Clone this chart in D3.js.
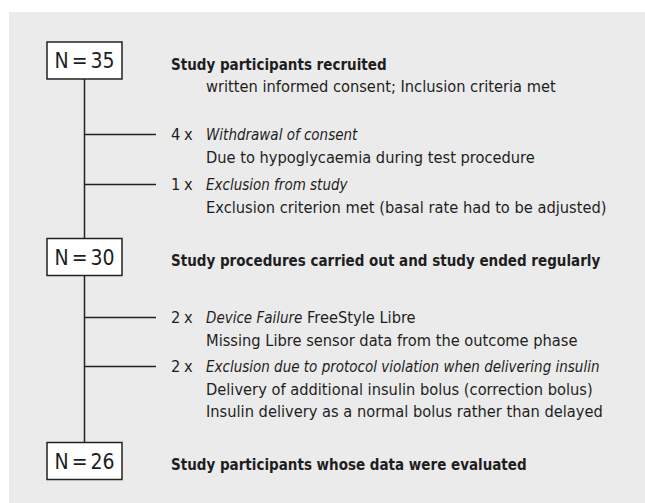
<!DOCTYPE html>
<html>
<head>
<meta charset="utf-8">
<script src="https://cdn.jsdelivr.net/npm/d3@7"></script>
<style>
  html, body { margin: 0; padding: 0; background: #fff; }
  svg { display: block; }
  text { font-family: "Liberation Sans Narrow", "DejaVu Sans Condensed", "Roboto Condensed", sans-serif; fill: #1e1e1e; }
</style>
</head>
<body>
<svg id="flow" width="645" height="503"></svg>
<script>
// Flow of study participants (recruited -> evaluated)

// ---------- data ----------
const stageCounts  = [35, 30, 26];
const stageTitles  = [
  'Study participants recruited',
  'Study procedures carried out and study ended regularly',
  'Study participants whose data were evaluated'
];
const stageNotes   = [
  ['written informed consent; Inclusion criteria met'],
  [],
  []
];
// drop-outs, grouped by the stage they leave from
const dropStage    = [0, 0, 1, 1];
const dropCounts   = [4, 1, 2, 2];
const dropReasons  = [
  'Withdrawal of consent',
  'Exclusion from study',
  'Device Failure',
  'Exclusion due to protocol violation when delivering insulin'
];
const dropSuffix   = ['', '', ' FreeStyle Libre', ''];
const dropDetails  = [
  ['Due to hypoglycaemia during test procedure'],
  ['Exclusion criterion met (basal rate had to be adjusted)'],
  ['Missing Libre sensor data from the outcome phase'],
  ['Delivery of additional insulin bolus (correction bolus)',
   'Insulin delivery as a normal bolus rather than delayed']
];

// ---------- layout ----------
const CONFIG = {
  panel     : { x: 9, y: 12, w: 636, h: 491, fill: '#ebebeb' },
  boxW      : 75,
  boxH      : 37,
  boxX      : 47,
  stemX     : 84.5,
  branchEnd : 156,
  titleX    : 171,
  indentX   : 206,
  lineH     : 22.5,
  fontSize  : 16.3,   // regular
  italSize  : 15,
  boldSize  : 15,
  boxFont   : 21,
  ink       : '#222'
};

// vertical positions: box centres and first baseline of each drop-out group
const stageY = d3.scaleOrdinal().domain(d3.range(stageCounts.length)).range([60.5, 257, 461]);
const dropY  = d3.scaleOrdinal().domain(d3.range(dropCounts.length)).range([140, 190, 323, 372]);

const svg = d3.select('#flow');

svg.append('rect')
  .attr('x', CONFIG.panel.x).attr('y', CONFIG.panel.y)
  .attr('width', CONFIG.panel.w).attr('height', CONFIG.panel.h)
  .attr('fill', CONFIG.panel.fill);

// ---------- stem ----------
svg.append('line')
  .attr('x1', CONFIG.stemX).attr('x2', CONFIG.stemX)
  .attr('y1', stageY(0)).attr('y2', stageY(stageCounts.length - 1))
  .attr('stroke', CONFIG.ink).attr('stroke-width', 1.5);

// ---------- drop-out branches ----------
const drop = svg.selectAll('g.drop')
  .data(dropCounts.map((n, i) => ({ n, i, stage: dropStage[i] })))
  .enter().append('g')
    .attr('class', 'drop')
    .attr('transform', d => `translate(0,${dropY(d.i)})`);

drop.append('line')
  .attr('x1', CONFIG.stemX).attr('x2', CONFIG.branchEnd)
  .attr('y1', -5.5).attr('y2', -5.5)
  .attr('stroke', CONFIG.ink).attr('stroke-width', 1.5);

drop.append('text')
  .attr('x', CONFIG.titleX).attr('y', 0)
  .attr('font-size', CONFIG.fontSize)
  .attr('word-spacing', -1)
  .text(d => `${d.n} x`);

const head = drop.append('text')
  .attr('x', CONFIG.indentX).attr('y', 0)
  .attr('font-size', CONFIG.fontSize);
head.append('tspan').attr('font-style', 'italic').attr('font-size', CONFIG.italSize).text(d => dropReasons[d.i]);
head.append('tspan').text(d => dropSuffix[d.i]);

drop.selectAll('text.detail')
  .data(d => dropDetails[d.i])
  .enter().append('text')
    .attr('class', 'detail')
    .attr('x', CONFIG.indentX)
    .attr('y', (d, j) => (j + 1) * CONFIG.lineH)
    .attr('font-size', CONFIG.fontSize)
    .text(d => d);

// ---------- stage boxes ----------
const stage = svg.selectAll('g.stage')
  .data(stageCounts.map((n, i) => ({ n, i })))
  .enter().append('g')
    .attr('class', 'stage')
    .attr('transform', d => `translate(0,${stageY(d.i)})`);

stage.append('rect')
  .attr('x', CONFIG.boxX).attr('y', -CONFIG.boxH / 2)
  .attr('width', CONFIG.boxW).attr('height', CONFIG.boxH)
  .attr('fill', '#fff')
  .attr('stroke', CONFIG.ink).attr('stroke-width', 1.5);

stage.append('text')
  .attr('x', CONFIG.boxX + CONFIG.boxW / 2).attr('y', 7.5)
  .attr('text-anchor', 'middle')
  .attr('font-size', CONFIG.boxFont)
  .attr('word-spacing', -3)
  .text(d => `N = ${d.n}`);

stage.append('text')
  .attr('x', CONFIG.titleX).attr('y', 9)
  .attr('font-size', CONFIG.boldSize)
  .attr('font-weight', 'bold')
  .text(d => stageTitles[d.i]);

stage.selectAll('text.note')
  .data(d => stageNotes[d.i])
  .enter().append('text')
    .attr('class', 'note')
    .attr('x', CONFIG.indentX)
    .attr('y', (d, j) => 9 + (j + 1) * CONFIG.lineH)
    .attr('font-size', CONFIG.fontSize)
    .text(d => d);
</script>
</body>
</html>
